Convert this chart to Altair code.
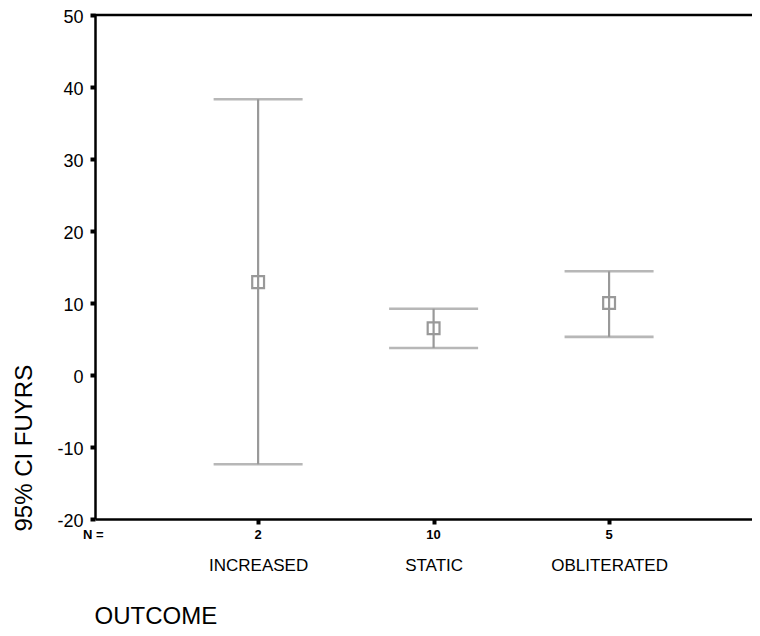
import altair as alt
import pandas as pd

categories = ["INCREASED", "STATIC", "OBLITERATED"]
n_counts = [2, 10, 5]
means = [12.9, 6.5, 10.0]
lower = [-12.4, 3.75, 5.3]
upper = [38.3, 9.2, 14.4]
y_ticks = [-20, -10, 0, 10, 20, 30, 40, 50]

df = pd.DataFrame({"cat": categories, "n": n_counts, "mean": means,
                   "lo": lower, "hi": upper})

FONT = "Liberation Sans"
GRAY = "#999999"
W, H = 657, 504

xscale = alt.Scale(type="point", domain=categories, padding=0.872, align=0.533)
yscale = alt.Scale(domain=[-20, 50], nice=False, zero=False)
ytitle = "95% CI FUYRS"

xaxis = alt.Axis(
    title="OUTCOME", titleFont=FONT, titleFontSize=24, titleFontWeight="normal",
    titleColor="black", titleX=-1, titleY=104, titleAlign="left",
    titleBaseline="alphabetic", titleAnchor="start",
    labelFont=FONT, labelFontSize=17, labelColor="black", labelPadding=33,
    labelAngle=0, domainColor="black", domainWidth=2.5, tickColor="black",
    tickSize=5, tickWidth=4, grid=False)

yaxis = alt.Axis(
    values=y_ticks, title=ytitle, titleFont=FONT, titleFontSize=24,
    titleFontWeight="normal", titleColor="black", titleAngle=270,
    titleX=-71, titleY=516, titleAlign="left", titleBaseline="middle",
    labelExpr="datum.value + ''",
    labelFont=FONT, labelFontSize=18, labelColor="black", labelPadding=7,
    labelOffset=2, domainColor="black", domainWidth=2.5, tickColor="black",
    tickSize=5, tickWidth=4, grid=False)

base = alt.Chart(df)

bars = base.mark_rule(color=GRAY, strokeWidth=2.2).encode(
    x=alt.X("cat:N", scale=xscale, axis=xaxis, sort=categories),
    y=alt.Y("lo:Q", scale=yscale, axis=yaxis, title=ytitle),
    y2="hi:Q",
)

cap_hi = base.mark_tick(color=GRAY, size=89, thickness=2.6).encode(
    x=alt.X("cat:N", scale=xscale, sort=categories),
    y=alt.Y("hi:Q", scale=yscale, title=ytitle),
)
cap_lo = base.mark_tick(color=GRAY, size=89, thickness=2.6).encode(
    x=alt.X("cat:N", scale=xscale, sort=categories),
    y=alt.Y("lo:Q", scale=yscale, title=ytitle),
)

pts = base.mark_point(shape="square", size=140, filled=False, color=GRAY,
                      strokeWidth=2.2, opacity=1).encode(
    x=alt.X("cat:N", scale=xscale, sort=categories),
    y=alt.Y("mean:Q", scale=yscale, title=ytitle),
)

ntext = base.mark_text(font=FONT, fontSize=13, fontWeight="bold",
                       color="black", baseline="middle").encode(
    x=alt.X("cat:N", scale=xscale, sort=categories),
    y=alt.value(H + 16),
    text="n:Q",
)

nlabel = alt.Chart(pd.DataFrame({"t": ["N ="]})).mark_text(
    font=FONT, fontSize=13, fontWeight="bold", color="black", align="left",
    baseline="middle"
).encode(x=alt.value(-12), y=alt.value(H + 16), text="t:N")

top = alt.Chart(pd.DataFrame({"v": [50]})).mark_rule(
    color="black", strokeWidth=2.5).encode(
    y=alt.Y("v:Q", scale=yscale, title=ytitle))

chart = alt.layer(top, bars, cap_hi, cap_lo, pts, ntext, nlabel).properties(
    width=W, height=H,
    autosize=alt.AutoSizeParams(type="none"),
    padding={"left": 87, "top": 7, "right": 0, "bottom": 109},
    background="white",
).configure_view(stroke=None)

chart.save("out.html", embed_options={"renderer": "svg", "actions": False})
